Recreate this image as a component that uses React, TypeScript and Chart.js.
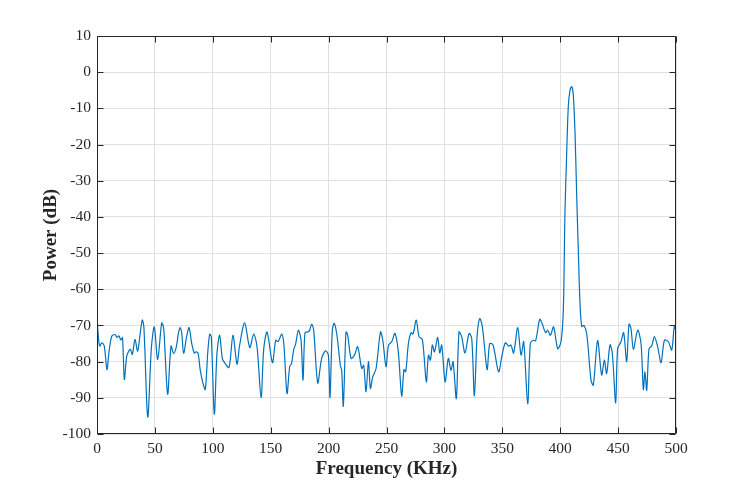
import React, { useEffect, useRef } from "react";
import { Chart, registerables } from "chart.js";

Chart.register(...registerables);

// Spectrum samples: frequency (KHz) and power (dB)
const freqKHz: number[] = [
  0, 1.0, 2.3, 4.2, 6.3, 8.6, 10.4, 12.7, 15.6, 17.3, 19.0, 20.5, 22.0, 23.6, 25.6, 27.1, 28.8, 30.5,
  32.8, 35.1, 37.2, 39.1, 40.5, 43.8, 47.0, 49.5, 52.4, 55.9, 57.6, 61.0, 63.9, 66.2, 68.5, 70.5,
  72.0, 73.3, 74.8, 77.4, 79.5, 81.8, 84.0, 85.5, 87.2, 89.2, 91.5, 93.5, 95.6, 97.3, 98.7, 101.3,
  103.6, 105.9, 108.2, 110.2, 114.0, 117.4, 120.9, 123.2, 127.5, 131.9, 135.3, 138.2, 141.7, 144.0,
  146.9, 151.5, 154.3, 156.4, 159.5, 161.3, 164.1, 166.4, 168.0, 169.8, 171.6, 173.9, 176.2, 177.9,
  179.6, 181.9, 183.4, 185.4, 187.1, 190.6, 194.0, 197.4, 199.8, 201.2, 203.2, 204.9, 207.2, 210.1,
  211.3, 212.7, 215.0, 216.5, 219.4, 222.3, 225.1, 228.6, 230.3, 232.3, 234.4, 236.1, 238.1, 241.0,
  244.8, 246.8, 249.6, 251.7, 254.5, 257.3, 260.2, 263.1, 265.1, 266.6, 268.9, 271.2, 272.9, 275.7,
  278.1, 281.0, 284.4, 286.2, 287.9, 289.6, 291.4, 294.2, 296.0, 297.7, 300.6, 303.4, 305.7, 307.5,
  310.3, 312.6, 314.9, 317.8, 321.3, 323.6, 325.9, 328.2, 330.5, 332.8, 336.9, 339.1, 342.0, 346.8,
  349.5, 352.6, 355.5, 357.5, 359.8, 363.3, 366.2, 368.5, 371.9, 374.2, 376.6, 378.8, 382.3, 384.3,
  387.4, 389.2, 391.5, 394.3, 397.8, 400.7, 402.7, 404.1, 405.6, 407.0, 408.5, 409.9, 411.3, 412.8,
  414.2, 415.7, 417.1, 418.6, 420.6, 423.0, 426.6, 428.6, 432.3, 435.8, 438.1, 440.1, 443.0, 445.0,
  447.9, 449.6, 452.5, 454.8, 457.4, 459.4, 461.1, 463.2, 466.9, 469.8, 471.8, 473.2, 474.7, 476.7,
  479.0, 481.3, 484.2, 487.1, 490.0, 493.4, 496.3, 498.6, 500.0,
];

const powerDb: number[] = [
  -67.5, -72.5, -75.7, -74.8, -75.7, -82.2, -77.3, -73.0, -72.5, -73.3, -72.9, -74.0, -73.4, -84.9, -78.6, -77.3, -76.6, -78.0,
  -73.9, -77.1, -72.5, -68.5, -70.5, -95.3, -76.0, -70.4, -79.4, -69.3, -70.8, -89.0, -75.7, -77.7, -75.9, -71.8,
  -70.6, -72.5, -77.7, -73.1, -70.6, -75.0, -77.6, -77.3, -77.6, -82.4, -86.0, -87.7, -77.7, -72.4, -73.1, -94.5,
  -77.7, -72.7, -79.1, -80.3, -81.6, -72.7, -80.7, -75.4, -69.3, -76.1, -72.4, -75.9, -89.9, -76.4,
  -71.8, -80.3, -74.1, -74.5, -72.4, -75.0, -88.8, -81.4, -80.5, -76.8, -75.0, -71.3, -74.1, -85.1,
  -72.0, -71.8, -71.5, -69.6, -71.3, -85.9, -79.1, -77.0, -78.2, -89.9, -71.3, -69.4, -72.7, -81.0,
  -82.4, -92.3, -71.8, -72.7, -79.1, -78.2, -75.9, -81.9, -81.0, -88.3, -80.0, -87.4, -84.2, -81.9,
  -71.8, -74.1, -81.4, -75.5, -74.5, -72.2, -77.3, -89.5, -82.2, -82.8, -75.0, -72.0, -72.4, -68.5,
  -73.1, -73.9, -85.6, -78.2, -79.6, -75.4, -77.3, -73.3, -77.6, -75.4, -85.6, -79.1, -82.4, -80.0,
  -90.2, -71.8, -73.1, -77.6, -72.2, -73.6, -89.5, -73.1, -68.1, -70.4, -82.2, -75.0, -75.4, -82.8,
  -78.7, -74.8, -75.7, -75.4, -77.6, -70.6, -78.2, -74.5, -91.7, -75.0, -74.1, -74.2, -68.3, -69.4,
  -72.0, -71.3, -72.7, -70.4, -76.4, -74.5, -65.7, -39.0, -22.4, -9.5, -4.9, -4.0, -6.3, -16.8,
  -33.5, -50.0, -63.8, -70.3, -70.0, -72.5, -85.1, -86.5, -74.2, -83.7, -79.6, -83.3, -75.4, -77.7,
  -91.4, -76.4, -74.5, -72.0, -80.0, -69.6, -70.8, -76.6, -71.3, -75.0, -87.7, -82.8, -87.9, -76.4,
  -75.7, -73.1, -75.9, -80.3, -74.1, -74.5, -76.8, -70.2, -71.5,
];

const xMin = 0;
const xMax = 500;
const xStep = 50;
const yMin = -100;
const yMax = 10;
const yStep = 10;

const xTitle = "Frequency (KHz)";
const yTitle = "Power (dB)";

const AXIS_COLOR = "#262626";
const GRID_COLOR = "#e0e0e0";
const LINE_COLOR = "#0072BD";
const FONT_FAMILY = "'Liberation Serif', 'Times New Roman', serif";

// Box around the plot area with inward-pointing ticks on all four sides
const boxPlugin = {
  id: "boxFrame",
  afterDraw(chart: any) {
    const { ctx, chartArea } = chart;
    const xs = chart.scales.x;
    const ys = chart.scales.y;
    const L = Math.round(chartArea.left) + 0.5;
    const R = Math.round(chartArea.right) - 0.5;
    const T = Math.round(chartArea.top) + 0.5;
    const B = Math.round(chartArea.bottom) - 0.5;
    const len = 6;
    ctx.save();
    ctx.strokeStyle = AXIS_COLOR;
    ctx.lineWidth = 1;
    ctx.beginPath();
    ctx.rect(L, T, R - L, B - T);
    xs.ticks.forEach((t: any) => {
      const px = Math.round(xs.getPixelForValue(t.value)) + 0.5;
      ctx.moveTo(px, B);
      ctx.lineTo(px, B - len);
      ctx.moveTo(px, T);
      ctx.lineTo(px, T + len);
    });
    ys.ticks.forEach((t: any) => {
      const py = Math.round(ys.getPixelForValue(t.value)) + 0.5;
      ctx.moveTo(L, py);
      ctx.lineTo(L + len, py);
      ctx.moveTo(R, py);
      ctx.lineTo(R - len, py);
    });
    ctx.stroke();
    ctx.restore();
  },
};

export default function App() {
  const canvasRef = useRef<HTMLCanvasElement | null>(null);

  useEffect(() => {
    const canvas = canvasRef.current;
    if (!canvas) return;
    const points = freqKHz.map((f, i) => ({ x: f, y: powerDb[i] }));

    const chart = new Chart(canvas, {
      type: "line",
      data: {
        datasets: [
          {
            data: points,
            borderColor: LINE_COLOR,
            borderWidth: 1.2,
            pointRadius: 0,
            tension: 0.3,
            fill: false,
          },
        ],
      },
      options: {
        animation: false,
        responsive: false,
        maintainAspectRatio: false,
        events: [],
        layout: { padding: { left: 0, top: 36, right: 71, bottom: 0 } },
        plugins: {
          legend: { display: false },
          tooltip: { enabled: false },
          title: { display: false },
        },
        scales: {
          x: {
            type: "linear",
            min: xMin,
            max: xMax,
            afterFit(scale: any) {
              scale.height = 54;
            },
            border: { display: false },
            grid: { color: GRID_COLOR, lineWidth: 1, drawTicks: false, tickLength: 0 },
            ticks: {
              stepSize: xStep,
              padding: 6,
              color: AXIS_COLOR,
              maxRotation: 0,
              font: { family: FONT_FAMILY, size: 15.5 },
            },
            title: {
              display: true,
              text: xTitle,
              color: AXIS_COLOR,
              padding: { top: 0, bottom: 8 },
              font: { family: FONT_FAMILY, size: 19, weight: "bold" },
            },
          },
          y: {
            type: "linear",
            min: yMin,
            max: yMax,
            afterFit(scale: any) {
              scale.width = 97;
            },
            border: { display: false },
            grid: { color: GRID_COLOR, lineWidth: 1, drawTicks: false, tickLength: 0 },
            ticks: {
              stepSize: yStep,
              padding: 6,
              color: AXIS_COLOR,
              font: { family: FONT_FAMILY, size: 15.5 },
            },
            title: {
              display: true,
              text: yTitle,
              color: AXIS_COLOR,
              padding: { top: 40, bottom: 0 },
              font: { family: FONT_FAMILY, size: 19, weight: "bold" },
            },
          },
        },
      },
      plugins: [boxPlugin],
    });

    return () => chart.destroy();
  }, []);

  return (
    <div
      style={{
        position: "fixed",
        left: 0,
        top: 0,
        width: 747,
        height: 488,
        background: "#ffffff",
      }}
    >
      <canvas ref={canvasRef} width={747} height={488} style={{ width: 747, height: 488 }} />
    </div>
  );
}
